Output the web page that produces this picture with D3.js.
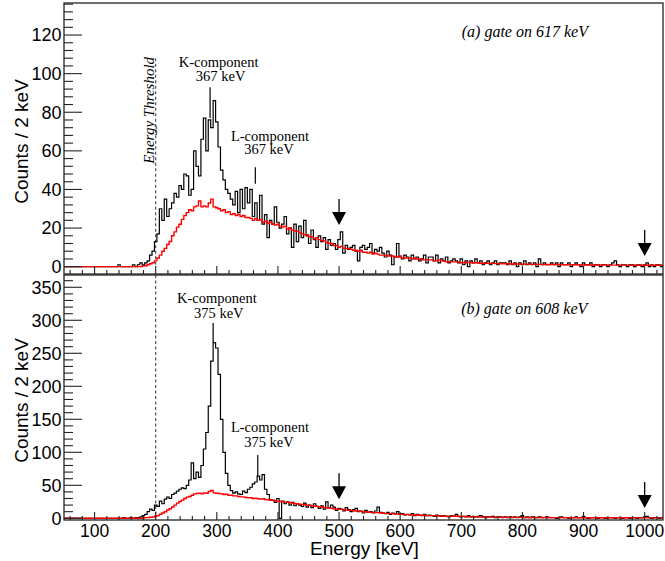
<!DOCTYPE html>
<html>
<head>
<meta charset="utf-8">
<script src="https://cdn.jsdelivr.net/npm/d3@7"></script>
<style>
  html, body { margin: 0; padding: 0; background: #fff; }
  svg { display: block; }
  .tick-label { font-family: "Liberation Sans", Arial, sans-serif; font-size: 18px; fill: #000; }
  .x-tick-label { font-family: "Liberation Sans", Arial, sans-serif; font-size: 17.5px; fill: #000; }
  .axis-title { font-family: "Liberation Sans", Arial, sans-serif; font-size: 19px; fill: #000; }
  .note { font-family: "Liberation Serif", "Times New Roman", serif; font-size: 14.5px; fill: #000; }
  .note-it { font-family: "Liberation Serif", "Times New Roman", serif; font-style: italic; fill: #000; }
</style>
</head>
<body>
<svg id="chart" width="665" height="561"></svg>
<script>
// Energy binning of the spectra (keV)
const binStart = 50;
const binWidth = 4;

// (a) gamma spectrum gated on 617 keV: coincidence counts, rows of 40 keV starting at 50 keV
const gate617Counts = [
  0,0,0,0,0,0,0,0,0,0,
  0,0,0,0,0,0,0,0,0,0,
  0,0,1,0,0,0,0,0,1,0,
  1,2,1,2,3,6,8,13,17,30,
  24,35,26,30,33,38,36,42,40,48,
  47,37,40,60,52,47,66,77,60,76,
  72,86,75,62,50,45,40,38,35,32,
  39,28,40,30,41,33,40,26,33,24,
  37,22,27,15,24,22,31,23,20,22,
  26,17,20,10,22,13,21,15,24,16,
  12,19,14,10,16,13,15,9,14,11,
  12,9,14,18,7,11,9,10,11,8,
  3,10,11,9,10,12,7,9,8,10,
  7,5,8,6,1,5,12,5,4,6,
  5,3,6,4,5,3,4,6,2,5,
  5,3,6,2,4,3,5,2,3,4,
  3,2,4,1,3,0,3,2,4,2,
  3,1,2,3,1,2,3,1,2,2,
  2,1,3,1,2,0,2,1,3,1,
  2,1,2,0,4,1,2,1,1,2,
  1,2,0,2,1,1,2,0,1,2,
  1,0,2,1,1,2,0,1,1,0,
  1,1,0,1,2,3,1,0,1,1,
  0,1,1,0,1,1,0,1,2,0,
  1,0,1,1,0
];

// (a) background estimate under the 617 keV gate
const gate617Background = [
  0,0,0,0,0,0,0,0,0,0,
  0,0,0,0,0,0,0,0,0,0,
  0,0,0,0,0,0,0,0,0,0,
  0,0,0.5,0.5,1,1.5,2,3,4.5,6,
  8,9.5,11.5,13,16,18,20.5,22,24.5,26.5,
  28,29.5,29,31,31.5,34,31,31.5,31,33,
  35,31,30.5,30,29,29.5,28,28.5,27,27.5,
  26.5,27,26,26.5,25.5,25.5,25,24,25,24,
  24.5,23,23.5,22.5,23,22,21.5,22,21,20.5,
  21,19.5,20,19,18.5,18.5,17.5,17,16.5,16.5,
  15.5,15.5,14.5,15,14,13.5,13.5,12.5,12,12,
  11,11,10,10.5,9.5,9.5,9.5,9,8.5,8.5,
  8,8.5,7.5,7.5,7,7.5,6.5,7,6.5,6,
  6,6,5.5,5.5,5.5,5,5,5.5,4.5,4.5,
  4.5,4.5,4,4.5,4,4,3.5,3.5,3.5,3.5,
  3.5,3,3,3.5,3,3,2.5,2.5,2.5,2.5,
  2.5,2.5,2,2,2,2.5,2,2,2,2,
  1.8,1.8,1.8,1.7,1.7,1.7,1.6,1.6,1.6,1.5,
  1.5,1.5,1.5,1.4,1.4,1.4,1.4,1.3,1.3,1.3,
  1.3,1.2,1.2,1.2,1.2,1.2,1.1,1.1,1.1,1.1,
  1.1,1.1,1,1,1,1,1,1,1,1,
  1,1,0.9,0.9,0.9,0.9,0.9,0.9,0.9,0.9,
  0.9,0.8,0.8,0.8,0.8,0.8,0.8,0.8,0.8,0.8,
  0.8,0.8,0.7,0.7,0.7,0.7,0.7,0.7,0.7,0.7,
  0.7,0.7,0.7,0.7,0.7
];

// (b) gamma spectrum gated on 608 keV
const gate608Counts = [
  0,0,0,0,0,0,0,0,0,0,
  0,0,0,0,0,0,0,0,0,0,
  0,0,0,0,1,0,0,1,0,1,
  1,2,4,6,10,14,12,20,18,26,
  22,29,32,30,36,38,41,44,46,45,
  50,58,84,60,70,62,80,105,130,170,
  238,266,258,218,150,100,68,50,42,38,
  40,37,36,41,39,44,47,52,55,64,
  58,66,44,36,28,27,24,30,0,26,
  22,25,20,24,19,22,20,18,23,17,
  20,16,22,18,15,19,14,25,16,20,
  17,12,15,14,11,16,13,10,13,15,
  10,11,8,12,9,10,8,11,17,9,
  8,7,9,6,8,7,10,6,7,5,
  6,5,7,4,6,5,4,6,4,5,
  4,3,5,4,3,4,3,2,4,3,
  6,3,2,3,2,4,2,3,2,3,
  4,2,1,2,2,3,1,2,2,1,
  2,1,2,1,2,1,2,4,1,2,
  1,2,1,1,2,1,1,2,1,1,
  1,0,1,2,1,1,0,1,1,2,
  1,1,3,1,0,1,1,1,0,1,
  1,0,1,1,1,0,1,1,0,1,
  1,0,1,1,0,1,1,2,3,1,
  0,1,1,0,1
];

// (b) background estimate under the 608 keV gate
const gate608Background = [
  0,0,0,0,0,0,0,0,0,0,
  0,0,0,0,0,0,0,0,0,0,
  0,0,0,0,0,0,0,0,0,0,
  0,0,0.5,1,1,1.5,2,3,4,6,
  8,10,12.5,14.5,17,20,23,25.5,27.5,30,
  32,33,35,37,37.5,38,37,38.5,38,40.5,
  42,38.5,38,37.5,37,36,36.5,35,35,34,
  34,33,32.5,32.5,31.5,31,31,30,30.5,29.5,
  29,29.5,28.5,28,27.5,27.5,26.5,26,25.5,25,
  24.5,24.5,23.5,23,22.5,22,21.5,21,20.5,20,
  19.5,19,18.5,18,17.5,17,16.5,16,15.5,15,
  14.5,14,13.5,13.5,13,12.5,12,12,11.5,11,
  11,10.5,10,10,9.5,9,9,8.5,8.5,8,
  8,7.5,7.5,7,7,6.5,6.5,6,6,5.5,
  5.5,5.5,5,5,5,4.5,4.5,4.5,4,4,
  4,4,3.5,3.5,3.5,3.5,3,3,3,3,
  3,2.8,2.8,2.6,2.6,2.4,2.4,2.2,2.2,2,
  2,2,1.9,1.9,1.8,1.8,1.7,1.7,1.6,1.6,
  1.6,1.5,1.5,1.5,1.4,1.4,1.4,1.3,1.3,1.3,
  1.3,1.2,1.2,1.2,1.2,1.1,1.1,1.1,1.1,1,
  1,1,1,1,1,1,0.9,0.9,0.9,0.9,
  0.9,0.9,0.9,0.8,0.8,0.8,0.8,0.8,0.8,0.8,
  0.8,0.8,0.7,0.7,0.7,0.7,0.7,0.7,0.7,0.7,
  0.7,0.7,0.6,0.6,0.6,0.6,0.6,0.6,0.6,0.6,
  0.6,0.6,0.6,0.6,0.6
];

// Axis ticks
const energyTicks = [100, 200, 300, 400, 500, 600, 700, 800, 900, 1000];
const countTicksA = [0, 20, 40, 60, 80, 100, 120];
const countTicksB = [0, 50, 100, 150, 200, 250, 300, 350];

// Threshold and arrow positions (keV), arrow tip heights (counts)
const thresholdEnergy = 200;
const arrowEnergies = [500, 1000];
const arrowTipsA = [21.6, 5.5];
const arrowTipsB = [29, 15.6];

// Peak markers: energy, upper and lower count of the tick line
const markerEnergiesA = [289, 363];
const markerTopsA = [93, 51.5];
const markerBottomsA = [77, 43];
const markerEnergiesB = [294, 367];
const markerTopsB = [296, 96];
const markerBottomsB = [266, 64];

// Text
const gateLabels = ["(a) gate on 617 keV", "(b) gate on 608 keV"];
const kLabels = [["K-component", "367 keV"], ["K-component", "375 keV"]];
const lLabels = [["L-component", "367 keV"], ["L-component", "375 keV"]];
const yTitle = "Counts / 2 keV";
const xTitle = "Energy [keV]";
const thresholdLabel = "Energy Threshold";

const svg = d3.select("#chart");
const left = 64, right = 663;

const x = d3.scaleLinear().domain([50, 1030]).range([left, right]);
const yA = d3.scaleLinear().domain([-3.8, 136.6]).range([274, 3]);
const yB = d3.scaleLinear().domain([-2.6, 368.6]).range([520, 275]);

function histPoints(values) {
  const pts = values.map((v, i) => [binStart + i * binWidth, v]);
  pts.push([binStart + values.length * binWidth, values[values.length - 1]]);
  return pts;
}

// two-line centred label as one text element
function twoLine(g, lines, e, v, y, dx2) {
  const t = g.append("text").attr("class", "note").attr("text-anchor", "middle");
  t.append("tspan").attr("x", x(e)).attr("y", y(v[0])).text(lines[0]);
  t.append("tspan").attr("x", x(e) + dx2).attr("y", y(v[1]) + 0.5).text(lines[1]);
}

function drawPanel(id, y, counts, background, yTicks, minorStep, cfg) {
  const [y0, y1] = y.range();
  const g = svg.append("g");

  svg.append("clipPath").attr("id", "clip-" + id)
    .append("rect").attr("x", left).attr("y", y1).attr("width", right - left).attr("height", y0 - y1);

  const plot = g.append("g").attr("clip-path", `url(#clip-${id})`);

  // threshold line
  plot.append("line")
    .attr("x1", x(thresholdEnergy)).attr("x2", x(thresholdEnergy))
    .attr("y1", y(cfg.thresholdTop)).attr("y2", y(0))
    .attr("stroke", "#444").attr("stroke-width", 1.1).attr("stroke-dasharray", "3,2.5");

  const line = d3.line().x(d => x(d[0])).y(d => y(d[1])).curve(d3.curveStepAfter);

  plot.append("path").attr("d", line(histPoints(counts)))
    .attr("fill", "none").attr("stroke", "#000").attr("stroke-width", 1.2)
    .attr("stroke-linejoin", "miter");
  plot.append("path").attr("d", line(histPoints(background)))
    .attr("fill", "none").attr("stroke", "#ff0000").attr("stroke-width", 1.4)
    .attr("stroke-linejoin", "miter");

  // peak marker lines
  cfg.markerE.forEach((e, i) => {
    plot.append("line")
      .attr("x1", x(e)).attr("x2", x(e))
      .attr("y1", y(cfg.markerTop[i])).attr("y2", y(cfg.markerBottom[i]))
      .attr("stroke", "#000").attr("stroke-width", 1.2);
  });

  // arrows
  arrowEnergies.forEach((e, i) => {
    const tx = x(e), ty = y(cfg.arrowTips[i]);
    plot.append("path")
      .attr("d", `M${tx - 7},${ty - 13} L${tx + 7},${ty - 13} L${tx},${ty} Z`)
      .attr("fill", "#000");
    plot.append("line")
      .attr("x1", tx).attr("x2", tx).attr("y1", ty - 26).attr("y2", ty - 12)
      .attr("stroke", "#000").attr("stroke-width", 1.3);
  });

  // frame
  g.append("rect").attr("x", left).attr("y", y1).attr("width", right - left).attr("height", y0 - y1)
    .attr("fill", "none").attr("stroke", "#222").attr("stroke-width", 1.3);

  // y ticks
  const yMinor = d3.range(0, y.domain()[1], minorStep).filter(v => !yTicks.includes(v));
  g.selectAll(null).data(yMinor).join("line")
    .attr("x1", left).attr("x2", left + 9).attr("y1", d => y(d)).attr("y2", d => y(d))
    .attr("stroke", "#222").attr("stroke-width", 1.1);
  g.selectAll(null).data(yTicks).join("line")
    .attr("x1", left).attr("x2", left + 18).attr("y1", d => y(d)).attr("y2", d => y(d))
    .attr("stroke", "#222").attr("stroke-width", 1.1);
  g.selectAll(null).data(yTicks).join("text").attr("class", "tick-label")
    .attr("x", left - 2.5).attr("y", d => y(d)).attr("dy", "0.35em")
    .attr("text-anchor", "end").text(d => d);

  // x ticks
  const xMinor = d3.range(60, 1030, 20).filter(v => !energyTicks.includes(v));
  g.selectAll(null).data(xMinor).join("line")
    .attr("x1", d => x(d)).attr("x2", d => x(d)).attr("y1", y0).attr("y2", y0 - 4)
    .attr("stroke", "#222").attr("stroke-width", 1.1);
  g.selectAll(null).data(energyTicks).join("line")
    .attr("x1", d => x(d)).attr("x2", d => x(d)).attr("y1", y0).attr("y2", y0 - 8)
    .attr("stroke", "#222").attr("stroke-width", 1.1);

  // y title
  g.append("text").attr("class", "axis-title")
    .attr("transform", `translate(27.5,${(y0 + y1) / 2 + 3}) rotate(-90)`)
    .attr("text-anchor", "middle").text(yTitle);

  // annotations
  g.append("text").attr("class", "note-it").attr("font-size", 16)
    .attr("x", x(cfg.gateE)).attr("y", y(cfg.gateV)).attr("text-anchor", "middle").text(cfg.gateLabel);
  twoLine(g, cfg.k, cfg.kE, cfg.kV, y, 2);
  twoLine(g, cfg.l, cfg.lE, cfg.lV, y, -1);
  return g;
}

const gA = drawPanel("a", yA, gate617Counts, gate617Background, countTicksA, 4, {
  thresholdTop: 108,
  markerE: markerEnergiesA, markerTop: markerTopsA, markerBottom: markerBottomsA,
  arrowTips: arrowTipsA,
  gateLabel: gateLabels[0], gateE: 804, gateV: 119,
  k: kLabels[0], kE: 303, kV: [103.5, 96.2],
  l: lLabels[0], lE: 387, lV: [65, 58.4]
});

// threshold label
gA.append("text").attr("class", "note-it").attr("font-size", 15)
  .attr("transform", `translate(${x(thresholdEnergy) - 2},${yA(81)}) rotate(-90)`)
  .attr("text-anchor", "middle").text(thresholdLabel);

const gB = drawPanel("b", yB, gate608Counts, gate608Background, countTicksB, 10, {
  thresholdTop: 368.6,
  markerE: markerEnergiesB, markerTop: markerTopsB, markerBottom: markerBottomsB,
  arrowTips: arrowTipsB,
  gateLabel: gateLabels[1], gateE: 803, gateV: 309.5,
  k: kLabels[1], kE: 300, kV: [326, 303.5],
  l: lLabels[1], lE: 387, lV: [130.8, 109.5]
});

// energy tick labels and title on the lower panel
gB.selectAll(null).data(energyTicks).join("text").attr("class", "x-tick-label")
  .attr("x", d => x(d)).attr("y", 537).attr("text-anchor", "middle").text(d => d);
gB.append("text").attr("class", "axis-title")
  .attr("x", (left + right) / 2 + 1).attr("y", 554.5).attr("text-anchor", "middle").text(xTitle);
</script>
</body>
</html>
